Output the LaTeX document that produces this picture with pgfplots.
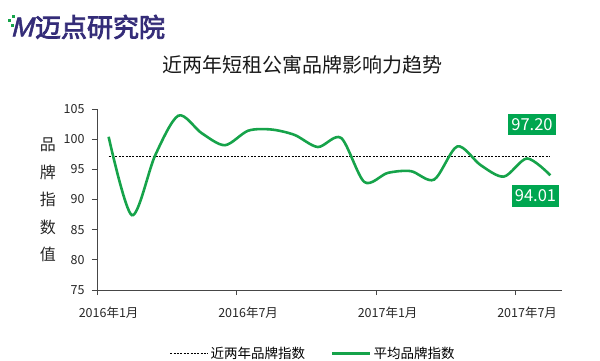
\documentclass[border=0pt]{standalone}
\usepackage{fontspec}
\setmainfont{Noto Sans CJK SC}
\newfontfamily\logofont[FakeBold=3]{Noto Sans CJK SC}
\newfontfamily\logoM[FakeBold=2,FakeSlant=0.25]{Liberation Sans}
\usepackage{pgfplots}
\pgfplotsset{compat=1.18}
\definecolor{lgreen}{RGB}{22,163,74}
\definecolor{bgreen}{RGB}{0,166,80}
\definecolor{logopurple}{RGB}{52,44,120}
\definecolor{axgray}{RGB}{70,70,70}
\pgfplotsset{legline/.style={legend image code/.code={\draw[##1] (0bp,0bp) -- (38bp,0bp);}}}
\begin{document}
\begin{tikzpicture}
\path[use as bounding box] (-97bp,-71bp) rectangle (503bp,290bp);
\begin{axis}[
  at={(0,0)}, anchor=south west,
  scale only axis, width=465bp, height=181bp,
  xmin=0, xmax=20, ymin=75, ymax=105,
  axis lines*=left,
  axis line style={axgray, line width=0.8pt},
  tick style={axgray, line width=0.8pt},
  tick align=outside, major tick length=5bp,
  xtick={0,6,12,18},
  xticklabels={2016年1月,2016年7月,2017年1月,2017年7月},
  xticklabel style={xshift=11.6bp, yshift=-8bp, font=\fontsize{12.5bp}{13bp}\selectfont, text=black!85},
  ytick={75,80,...,105},
  yticklabel style={xshift=-4bp, font=\fontsize{12.5bp}{13bp}\selectfont, text=black!85},
  /pgf/number format/assume math mode=true,
  legline,
  legend style={at={(axis description cs:0.465,-0.35)}, anchor=center, draw=none, fill=none,
    legend columns=2, font=\fontsize{13.5bp}{14bp}\selectfont,
    /tikz/every even column/.append style={column sep=24bp}},
  legend cell align=left,
  clip=false,
]
\addplot[black, line width=0.7pt, dash pattern=on 2pt off 1.4pt]
  coordinates {(0.5,97.2) (19.5,97.2)};
\addlegendentry{近两年品牌指数}
\addplot[lgreen, line width=2.6pt, smooth, tension=0.5]
  table {
x y
0.5 100.4
1.5 87.4
2.5 97.3
3.5 103.9
4.5 101.0
5.5 99.0
6.5 101.4
7.5 101.6
8.5 100.7
9.5 98.7
10.5 100.2
11.5 92.9
12.5 94.4
13.5 94.7
14.5 93.3
15.5 98.8
16.5 95.7
17.5 93.8
18.5 96.8
19.5 94.01
};
\addlegendentry{平均品牌指数}
\node[fill=bgreen, text=white, font=\fontsize{16.5bp}{16bp}\selectfont, inner sep=0pt, minimum width=48bp, minimum height=21bp] at (axis cs:18.71,102.35) {97.20};
\node[fill=bgreen, text=white, font=\fontsize{16.5bp}{16bp}\selectfont, inner sep=0pt, minimum width=47bp, minimum height=22bp] at (axis cs:18.86,90.58) {94.01};
\end{axis}
\node[font=\fontsize{20bp}{20bp}\selectfont, text=black!90] at (205bp,225bp) {近两年短租公寓品牌影响力趋势};
\node[font=\fontsize{16bp}{27.5bp}\selectfont, align=center, text=black!85] at (-49bp,90bp) {品\\牌\\指\\数\\值};
\node[font=\logoM\fontsize{27bp}{27bp}\selectfont, text=logopurple] at (-75bp,263bp) {M};
\node[font=\logofont\fontsize{26bp}{26bp}\selectfont, text=logopurple] at (3bp,263bp) {迈点研究院};
\fill[lgreen] (-89bp,268bp) rectangle ++(3bp,3bp);
\fill[lgreen] (-85bp,272bp) rectangle ++(3bp,3bp);
\fill[lgreen] (-86bp,263bp) rectangle ++(3bp,3bp);
\end{tikzpicture}
\end{document}
